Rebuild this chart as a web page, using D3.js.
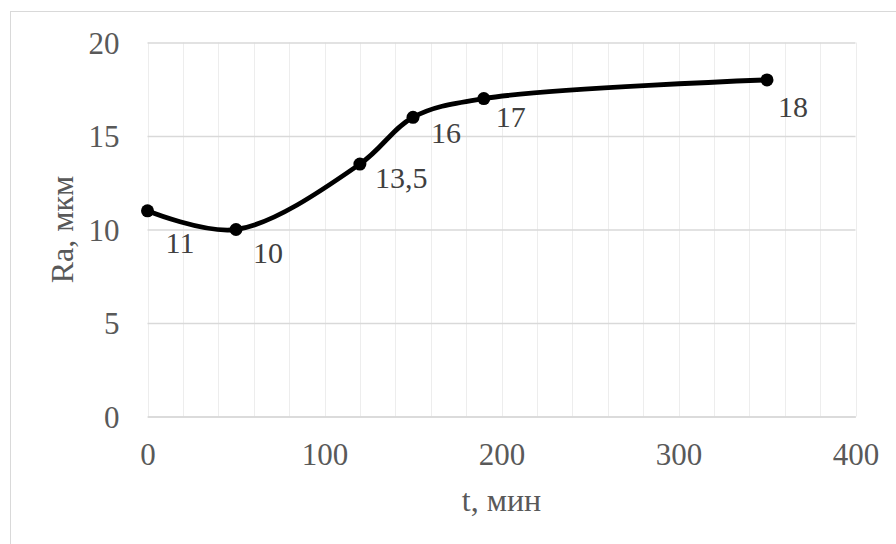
<!DOCTYPE html>
<html>
<head>
<meta charset="utf-8">
<script src="https://cdn.jsdelivr.net/npm/d3@7"></script>
<style>
  html, body { margin: 0; padding: 0; background: #fff; }
  svg { display: block; }
  text { font-family: "Liberation Serif", "Times New Roman", serif; fill: #595959; }
</style>
</head>
<body>
<svg id="chart" width="896" height="544"></svg>
<script>
// ---- data ----
const tValues = [0, 50, 120, 150, 190, 350];
const raValues = [11, 10, 13.5, 16, 17, 18];
const pointLabels = ["11", "10", "13,5", "16", "17", "18"];
const xTickValues = [0, 100, 200, 300, 400];
const yTickValues = [0, 5, 10, 15, 20];
const xMinorGrid = d3.range(0, 401, 20);
const xTitle = "t, мин";
const yTitle = "Ra, мкм";

// ---- layout ----
const labelOffsets = [[18, 42], [17, 33], [15, 24], [18, 26], [12, 28], [11, 37]];
const svg = d3.select("#chart");
svg.append("rect").attr("x", 10.5).attr("y", 11.5).attr("width", 950).attr("height", 650)
  .attr("fill", "#fff").attr("stroke", "#d9d9d9").attr("stroke-width", 1);

const x = d3.scaleLinear().domain([0, 400]).range([147.5, 855.5]);
const y = d3.scaleLinear().domain([0, 20]).range([416.5, 42.5]);

// vertical minor gridlines
svg.append("g").selectAll("line").data(xMinorGrid).join("line")
  .attr("x1", d => Math.round(x(d)) + 0.5).attr("x2", d => Math.round(x(d)) + 0.5)
  .attr("y1", y(20)).attr("y2", y(0))
  .attr("stroke", "#ededed").attr("stroke-width", 1);

// horizontal gridlines via axis
const yAxis = d3.axisLeft(y).tickValues(yTickValues).tickSize(-(x(400) - x(0))).tickPadding(28);
const gy = svg.append("g").attr("transform", `translate(${x(0)},0)`).call(yAxis);
gy.select(".domain").remove();
gy.selectAll(".tick line").attr("stroke", "#d9d9d9").attr("stroke-width", 1.3);
gy.selectAll(".tick text").attr("font-size", 31).attr("fill", "#595959")
  .attr("font-family", "Liberation Serif").attr("dy", "0.34em");

// x axis
const xAxis = d3.axisBottom(x).tickValues(xTickValues).tickSize(0).tickPadding(26);
const gx = svg.append("g").attr("transform", `translate(0,${y(0)})`).call(xAxis);
gx.select(".domain").attr("stroke", "#d9d9d9").attr("stroke-width", 1.3);
gx.selectAll(".tick text").attr("font-size", 31).attr("fill", "#595959")
  .attr("font-family", "Liberation Serif");

// axis titles
svg.append("text").attr("x", (x(0) + x(400)) / 2).attr("y", 511)
  .attr("text-anchor", "middle").attr("font-size", 32).text(xTitle);
svg.append("text").attr("transform", `translate(73,${(y(0) + y(20)) / 2}) rotate(-90)`)
  .attr("text-anchor", "middle").attr("font-size", 32).text(yTitle);

// series
const pts = tValues.map((t, i) => ({ t, v: raValues[i], label: pointLabels[i], off: labelOffsets[i] }));
const line = d3.line().x(d => x(d.t)).y(d => y(d.v)).curve(d3.curveCatmullRom.alpha(0.5));
svg.append("path").datum(pts).attr("d", line)
  .attr("fill", "none").attr("stroke", "#000").attr("stroke-width", 4.8)
  .attr("stroke-linejoin", "round").attr("stroke-linecap", "round");
svg.append("g").selectAll("circle").data(pts).join("circle")
  .attr("cx", d => x(d.t)).attr("cy", d => y(d.v)).attr("r", 6.5).attr("fill", "#000");
svg.append("g").selectAll("text").data(pts).join("text")
  .attr("x", d => x(d.t) + d.off[0]).attr("y", d => y(d.v) + d.off[1])
  .attr("font-size", 30).style("fill", "#404040").text(d => d.label);
</script>
</body>
</html>
